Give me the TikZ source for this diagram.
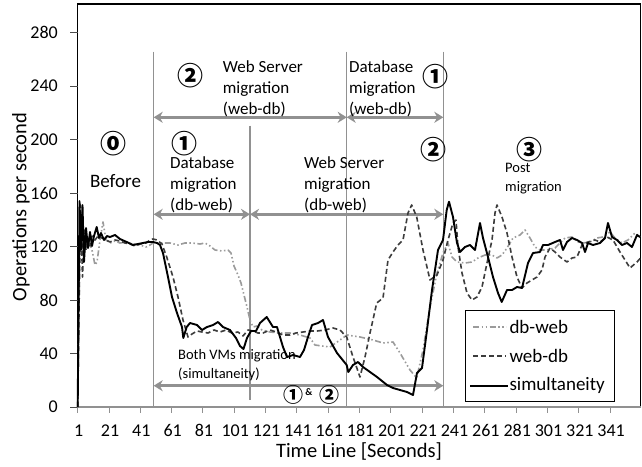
\documentclass[tikz,border=0pt]{standalone}
\usepackage{fontspec}
\setmainfont{Carlito}
\newfontfamily\circfont{Noto Sans CJK JP}
\usetikzlibrary{arrows.meta}

\definecolor{annot}{RGB}{145,145,145}
\definecolor{dbweb}{RGB}{155,155,155}
\definecolor{webdb}{RGB}{60,60,60}

\begin{document}
\begin{tikzpicture}[x=1pt,y=-1pt,
  lbl/.style={font=\fontsize{17}{21}\selectfont, align=left, anchor=west, inner sep=0pt},
  smalllbl/.style={font=\fontsize{14.5}{19}\selectfont, align=left, anchor=west, inner sep=0pt},
  circnum/.style={font=\circfont\bfseries\fontsize{26}{26}\selectfont, inner sep=0pt},
  smallcirc/.style={font=\circfont\bfseries\fontsize{20}{20}\selectfont, inner sep=0pt},
  ticklbl/.style={font=\fontsize{18}{20}\selectfont, inner sep=0pt},
  guide/.style={draw=annot, line width=1.2pt},
  span/.style={draw=annot, line width=2.6pt, {Stealth[length=9pt,width=11pt]}-{Stealth[length=9pt,width=11pt]}},
  dbwebline/.style={draw=dbweb, line width=1.6pt, line join=round,
    dash pattern=on 6pt off 2.5pt on 1.5pt off 2.5pt on 1.5pt off 2.5pt},
  webdbline/.style={draw=webdb, line width=1.6pt, line join=round, dash pattern=on 5pt off 3pt},
  simline/.style={draw=black, line width=1.9pt, line join=round},
]
\useasboundingbox[fill=white] (0,0) rectangle (642,466);

% ---- plot frame and axes ----
\coordinate (tl) at (77.7,4);
\coordinate (tr) at (640.7,4);
\coordinate (br) at (640.7,407);
\coordinate (bl) at (77.7,407);
\draw[black, line width=1.5pt] (bl) -- (tl) -- (tr) -- (br);
\draw[annot, line width=1.5pt] (bl) -- (br);

% y ticks and labels
\foreach \v in {0,40,...,280}{
  \pgfmathsetmacro{\py}{407-\v*1.3375}
  \draw[black!70, line width=1pt] (70,\py) -- (77.7,\py);
  \node[ticklbl, anchor=east] at (58,\py) {\v};
}
% x ticks and labels
\foreach \t in {1,21,...,341}{
  \pgfmathsetmacro{\px}{77.7+(\t-1)*1.566}
  \draw[annot, line width=1pt] (\px,407) -- (\px,413);
  \node[ticklbl] at (\px+1,430.5) {\t};
}

\node[font=\fontsize{20.5}{24}\selectfont, rotate=90] (ylab) at (21,207) {Operations per second};
\node[font=\fontsize{20.5}{24}\selectfont] (xlab) at (359,451) {Time Line [Seconds]};

% ---- phase boundaries ----
\coordinate (v1t) at (153.7,51.7);  \coordinate (v1b) at (153.7,407);
\coordinate (v2t) at (250,125.7);   \coordinate (v2b) at (250,400);
\coordinate (v3t) at (346.7,51.7);  \coordinate (v3b) at (346.7,407);
\coordinate (v4t) at (443.3,51.7);  \coordinate (v4b) at (443.3,407);
\draw[guide] (v1t) -- (v1b);
\draw[guide] (v2t) -- (v2b);
\draw[guide] (v3t) -- (v3b);
\draw[guide] (v4t) -- (v4b);

% ---- phase spans ----
\coordinate (a1l) at (153.7,117.3); \coordinate (a1r) at (346.7,117.3);
\coordinate (a2l) at (346.7,117.3); \coordinate (a2r) at (443.3,117.3);
\coordinate (a3l) at (153.7,214.3); \coordinate (a3r) at (250,214.3);
\coordinate (a4l) at (250,214.3);   \coordinate (a4r) at (443.3,214.3);
\coordinate (a5l) at (153.7,385.7); \coordinate (a5r) at (443.3,385.7);
\draw[span] (a1l) -- (a1r);
\draw[span] (a2l) -- (a2r);
\draw[span] (a3l) -- (a3r);
\draw[span] (a4l) -- (a4r);
\draw[span] (a5l) -- (a5r);

% ---- phase labels ----
\node[circnum] (n2a) at (190.5,75.5) {②};
\node[lbl] (wsa) at (222.7,88.5) {Web Server\\migration\\(web-db)};
\node[circnum] (n1a) at (435,76.3) {①};
\node[lbl] (dba) at (349,88.5) {Database\\migration\\(web-db)};
\node[circnum] (n0) at (113,144) {⓪};
\node[font=\fontsize{19}{22}\selectfont, inner sep=0pt] (before) at (115.5,181) {Before};
\node[circnum] (n1b) at (184,144) {①};
\node[lbl] (dbb) at (170,184.5) {Database\\migration\\(db-web)};
\node[lbl] (wsb) at (304,184.5) {Web Server\\migration\\(db-web)};
\node[circnum] (n2b) at (433.3,150) {②};
\node[circnum] (n3) at (529,150) {③};
\node[smalllbl] (post) at (505,178.5) {Post\\migration};
\node[smalllbl] (both) at (178,365.5) {Both VMs migration\\(simultaneity)};
\node[smallcirc] (n1c) at (293.3,395) {①};
\node[font=\bfseries\fontsize{10}{10}\selectfont, inner sep=0pt] (amp) at (309,392.5) {\&};
\node[smallcirc] (n2c) at (329,395) {②};

% ---- measured series ----
\draw[dbwebline] plot coordinates {
(77.7,407) (80,232) (83,250) (86,236) (89,242) (92,250) (95,265) (97,262) (100,240) (103,222)
(106,240) (110,243) (115,241) (120,243) (126,242) (133,244) (140,245) (146,247) (150,245) (153,243)
(157,243) (163,243) (170,243) (178,245) (185,243) (192,243) (200,244) (205,243) (210,246) (215,250)
(222,251) (228,250) (231,253) (234,266) (238,275) (241,283) (244,295) (247,307) (250,320) (253,327)
(257,326) (262,330) (270,332) (280,333) (290,333) (300,335) (310,338) (315,345) (322,346) (330,347)
(340,340) (347,335) (360,337) (373,340) (383,343) (393,342) (400,353) (410,370) (416.7,378) (423,350)
(430,307) (437,273) (443,253) (448,243) (452,257) (457,262) (465,263) (472,262) (478,258) (485,255)
(492,255) (497,258) (502,255) (507,248) (513,238) (520,235) (525,230) (530,238) (535,247) (540,250)
(547,250) (555,248) (560,243) (565,238) (572,237) (578,242) (583,243) (590,242) (597,238) (603,237)
(610,232) (615,238) (622,243) (628,240) (635,233) (640,237)};

\draw[webdbline] plot coordinates {
(77.7,407) (80.5,205) (82.5,277) (84,230) (86,250) (88,238) (90,246) (92,236) (95,240) (98,236)
(102,238) (106,240) (110,242) (115,240) (120,241) (125,243) (130,244) (135,246) (140,244) (146,243)
(150,240) (153,239) (157,240) (162,244) (166.7,257) (173,277) (178,297) (183,320) (188,337) (192,334)
(197,331) (202,332) (208,333) (214,330) (220,332) (226,330) (232,333) (238,332) (243,336) (248,330)
(253,331) (258,333) (263,333) (270,330) (276,332) (283,335) (290,335) (296,333) (303,332) (310,331)
(317,331) (325,330) (333,328) (340,330) (346.7,337) (353,357) (360,377) (365,357) (370,333) (376.7,303)
(383,298) (388,260) (393,252) (398,245) (403,240) (408,213) (411.7,205) (416.7,217) (423,250) (430,280)
(437,275) (443,260) (448,240) (453,223) (456,220) (458,247) (462,273) (467,293) (472,300) (477,297)
(482,287) (487,263) (492,240) (495,213) (497,205) (502,217) (507,233) (512,257) (517,277) (522,288)
(527,283) (532,280) (537,277) (542,270) (545,257) (550,248) (555,252) (560,257) (567,262) (572,258)
(577,257) (582,245) (588,242) (595,240) (600,242) (607,237) (613,240) (620,252) (625,260) (630,268)
(637,262) (640.5,258)};

\draw[simline] plot coordinates {
(77.7,407) (79.5,201) (81,250) (82.5,205) (84,262) (86,228) (88,248) (90,232) (92,246) (94,236)
(96.7,227) (99,238) (101,233) (104,240) (107,236) (110,237) (115,235) (120,239) (126.7,242) (133,245)
(138,244) (143,243) (148,242) (153,242) (157,243) (160,245) (163,253) (168,277) (172,297) (177,313)
(182,327) (183.3,338) (186.7,327) (190,323) (197,325) (202,330) (207,327) (213,325) (218,322) (223,327)
(230,330) (236,338) (240,346) (243.5,349) (247,338) (251,331) (256,331) (260,323) (266.7,317) (273,327)
(277,327) (283,347) (287,357) (293,355) (300,357) (304,350) (308,337) (312,325) (318,323) (323,320)
(328,337) (337,353) (346.7,365) (348.3,372) (353,365) (358,362) (363,367) (370,372) (377,377) (387,385)
(393,388) (407,392) (413,395) (417,373) (422,368) (427,330) (432,290) (435,270) (438,250) (443,240)
(446.7,210) (449,201.7) (453,217) (457,243) (460,252) (465,247) (470,245) (475,250) (480,223) (483,238)
(488,257) (493,277) (498,293) (501.7,302) (507,290) (512,290) (517,287) (522,288) (528,263) (533,253)
(540,252) (543,245) (548,245) (555,242) (560,240) (563,250) (567,242) (572,238) (577,240) (582,243)
(585,252) (588,243) (593,245) (600,243) (605,238) (608,223) (612,237) (617,240) (622,245) (627,243)
(632,247) (637,235) (640,237)};

% ---- legend ----
\node[draw=black, line width=1.5pt, fill=white, minimum width=149pt, minimum height=91pt,
      inner sep=0pt] (legend) at (540.2,356.2) {};
\coordinate (l1a) at (473,326.7); \coordinate (l1b) at (506,326.7);
\coordinate (l2a) at (473,356);   \coordinate (l2b) at (506,356);
\coordinate (l3a) at (470,385.7); \coordinate (l3b) at (508,385.7);
\draw[dbwebline] (l1a) -- (l1b);
\draw[webdbline] (l2a) -- (l2b);
\draw[simline] (l3a) -- (l3b);
\node[font=\fontsize{19}{22}\selectfont, anchor=west, inner sep=0pt] (t1) at (509.3,326.7) {db-web};
\node[font=\fontsize{19}{22}\selectfont, anchor=west, inner sep=0pt] (t2) at (509.3,356) {web-db};
\node[font=\fontsize{19}{22}\selectfont, anchor=west, inner sep=0pt] (t3) at (509.3,385.7) {simultaneity};
\end{tikzpicture}
\end{document}
